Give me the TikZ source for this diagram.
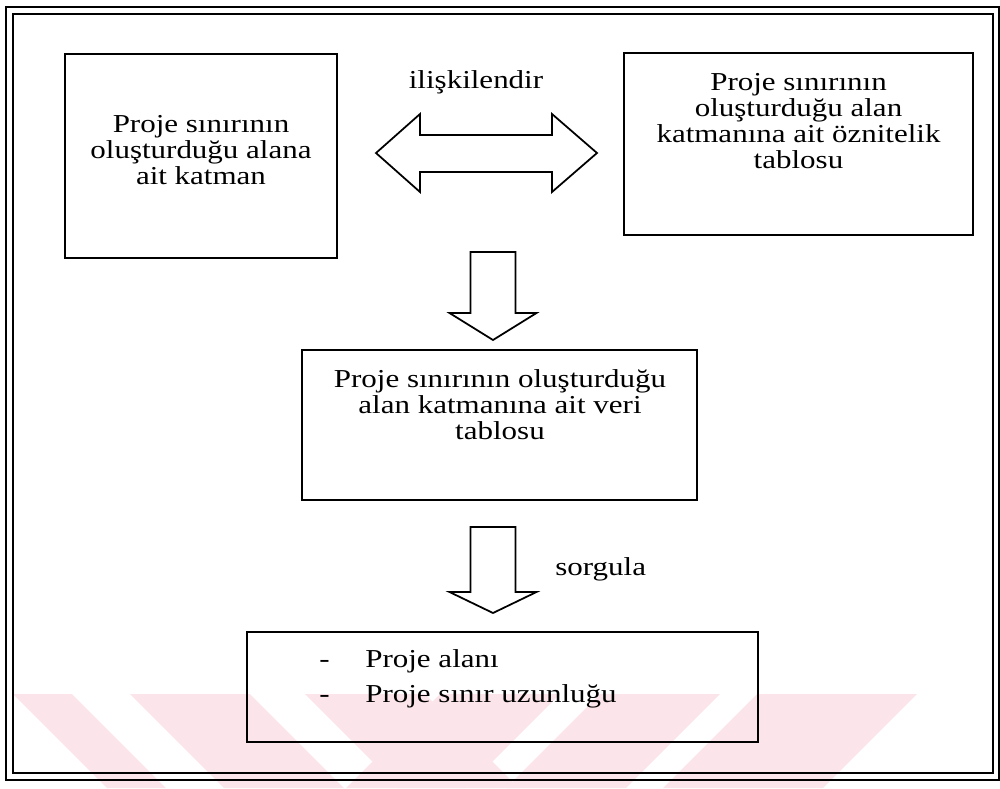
\documentclass[tikz,border=0pt]{standalone}
\usepackage{fontspec}
\setmainfont{Liberation Serif}[FakeStretch=1.2]
\definecolor{wmpink}{RGB}{252,229,234}

\begin{document}
\begin{tikzpicture}[x=0.02cm, y=-0.02cm,
    box/.style={draw, line width=1.4pt, inner sep=0pt},
    txt/.style={align=center, inner sep=0pt, font=\fontsize{14.7}{14.8}\selectfont},
    blockarrow/.style={draw, line width=1pt, line join=miter},
    frameline/.style={line width=1.4pt}]
        \useasboundingbox (0,0) rectangle (1000,788);

        % soluk pembe filigran seritleri
        \begin{scope}
            \clip (0,0) rectangle (1000,788);
            \foreach \a/\b in {13/72, 130/250, 305/425}
                \fill[wmpink] (\a,694) -- (\b,694) -- (\b+94,788) -- (\a+94,788) -- cycle;
            \foreach \a/\b in {440/560, 600/720, 757/917}
                \fill[wmpink] (\a,694) -- (\b,694) -- (\b-94,788) -- (\a-94,788) -- cycle;
        \end{scope}

        % cift cizgili cerceve
        \draw[frameline] (6,7) rectangle (999,780);
        \draw[frameline] (13,14) rectangle (993,773);

        % kutular
        \node[box, minimum width=5.44cm, minimum height=4.08cm] (katman) at (201,156) {};
        \node[box, minimum width=6.98cm, minimum height=3.64cm] (oznitelik) at (798.5,144) {};
        \node[box, minimum width=7.9cm, minimum height=3.0cm] (veri) at (499.5,425) {};
        \node[box, minimum width=10.22cm, minimum height=2.2cm] (sonuc) at (502.5,687) {};

        % kutu yazilari
        \node[txt] (katmanTxt) at (201,150) {Proje sınırının\\oluşturduğu alana\\ait katman};
        \node[txt] (oznitelikTxt) at (798.5,121) {Proje sınırının\\oluşturduğu alan\\katmanına ait öznitelik\\tablosu};
        \node[txt] (veriTxt) at (500,405) {Proje sınırının oluşturduğu\\alan katmanına ait veri\\tablosu};
        \node[txt, anchor=base west] (alan) at (319,667) {\makebox[0.92cm][l]{-}Proje alanı};
        \node[txt, anchor=base west] (uzunluk) at (319,702) {\makebox[0.92cm][l]{-}Proje sınır uzunluğu};

        % iki yonlu ok (ilişkilendir)
        \draw[blockarrow] (376,153) -- (420,114) -- (420,135) -- (552,135) -- (552,114) -- (597,153)
            -- (552,192) -- (552,172) -- (420,172) -- (420,192) -- cycle;
        \node[txt, anchor=base] (iliski) at (476,88) {ilişkilendir};

        % asagi oklar
        \draw[blockarrow] (470.5,252) -- (515.5,252) -- (515.5,313) -- (536.5,313) -- (493,340)
            -- (449.5,313) -- (470.5,313) -- cycle;
        \draw[blockarrow] (470.5,527) -- (515.5,527) -- (515.5,592) -- (536.5,592) -- (493,613)
            -- (449.5,592) -- (470.5,592) -- cycle;
        \node[txt, anchor=base west] (sorgu) at (555,575) {sorgula};

    \end{tikzpicture}
\end{document}
